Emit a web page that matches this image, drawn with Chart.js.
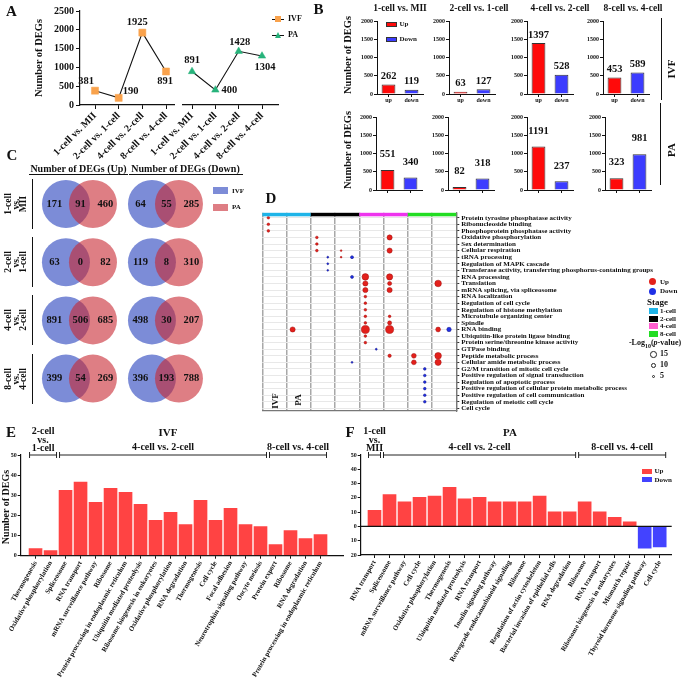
<!DOCTYPE html>
<html><head><meta charset="utf-8">
<script src="https://cdn.jsdelivr.net/npm/chart.js@4.4.1/dist/chart.umd.min.js"></script>
<style>
html,body{margin:0;padding:0;background:#fff;}
#root{position:relative;width:685px;height:679px;overflow:hidden;font-family:"Liberation Serif","Times New Roman",serif;font-weight:bold;color:#111;}
#root canvas{position:absolute;}
.t{position:absolute;white-space:nowrap;line-height:1;}
.b{position:absolute;}
</style></head><body><div id="root"></div>
<script>
// ---------------- DATA ----------------
const stages = ['1-cell vs. MII', '2-cell vs. 1-cell', '4-cell vs. 2-cell', '8-cell vs. 4-cell'];
const totalIVF = [381, 190, 1925, 891];
const totalPA = [891, 400, 1428, 1304];
const bDirections = ['up', 'down'];
const upIVF = [262, 63, 1397, 453];
const downIVF = [119, 127, 528, 589];
const upPA = [551, 82, 1191, 323];
const downPA = [340, 318, 237, 981];
const vennUpIVFonly = [171, 63, 891, 399];
const vennUpShared = [91, 0, 506, 54];
const vennUpPAonly = [460, 82, 685, 269];
const vennDownIVFonly = [64, 119, 498, 396];
const vennDownShared = [55, 8, 30, 193];
const vennDownPAonly = [285, 310, 207, 788];
const goTerms = [
  'Protein tyrosine phosphatase activity', 'Ribonucleoside binding', 'Phosphoprotein phosphatase activity',
  'Oxidative phosphorylation', 'Sex determination', 'Cellular respiration', 'tRNA processing',
  'Regulation of MAPK cascade', 'Transferase activity, transferring phosphorus-containing groups',
  'RNA processing', 'Translation', 'mRNA splicing, via spliceosome', 'RNA localization',
  'Regulation of cell cycle', 'Regulation of histone methylation', 'Microtubule organizing center',
  'Spindle', 'RNA binding', 'Ubiquitin-like protein ligase binding', 'Protein serine/threonine kinase activity',
  'GTPase binding', 'Peptide metabolic process', 'Cellular amide metabolic process',
  'G2/M transition of mitotic cell cycle', 'Positive regulation of signal transduction',
  'Regulation of apoptotic process', 'Positive regulation of cellular protein metabolic process',
  'Positive regulation of cell communication', 'Regulation of meiotic cell cycle', 'Cell cycle'
];
const goColumns = ['IVF', 'PA', 'IVF', 'PA', 'IVF', 'PA', 'IVF', 'PA'];
// columns: 0 IVF 1-cell, 1 PA 1-cell, 2 IVF 2-cell, 3 PA 2-cell, 4 IVF 4-cell, 5 PA 4-cell, 6 IVF 8-cell, 7 PA 8-cell
// [term index, column index, -log10(p-value)]
const goUp = [
  [0,0,4],[1,0,4],[2,0,4],
  [3,2,4],[3,5,11],[4,2,4],
  [5,2,4],[5,3,1.5],[5,5,11],
  [6,3,1.5],
  [9,4,15],[9,5,14],
  [10,4,11],[10,5,8],[10,7,15],
  [11,4,11],[11,5,11],
  [12,4,4],[13,4,4],[14,4,4],
  [15,4,4],[15,5,4],
  [16,4,4],[16,5,8],
  [17,1,11],[17,4,19],[17,5,19],[17,7,10],
  [18,4,4],[19,4,4],
  [21,5,6],[21,6,10],[21,7,15],
  [22,6,10],[22,7,14]
];
const goDown = [
  [6,2,2],[6,3,5],[7,2,2],[8,2,1.5],
  [9,3,5],[17,7,9],[20,4,2],[22,3,2],
  [23,6,4],[24,6,4],[25,6,4],[26,6,4],[27,6,4],[28,6,4]
];
const stageNames = ['1-cell', '2-cell', '4-cell', '8-cell'];
const eLabels = ['Thermogenesis', 'Oxidative phosphorylation', 'Spliceosome', 'RNA transport',
  'mRNA surveillance pathway', 'Ribosome', 'Protein processing in endoplasmic reticulum',
  'Ubiquitin mediated proteolysis', 'Ribosome biogenesis in eukaryotes', 'Oxidative phosphorylation',
  'RNA degradation', 'Thermogenesis', 'Cell cycle', 'Focal adhesion', 'Neurotrophin signaling pathway',
  'Oocyte meiosis', 'Protein export', 'Ribosome', 'RNA degradation', 'Protein processing in endoplasmic reticulum'];
const eValues = [4, 3, 33, 37, 27, 34, 32, 26, 18, 22, 16, 28, 18, 24, 16, 15, 6, 13, 9, 11];
const eGroupSizes = [2, 14, 4];
const eGroupNames = ['2-cell vs. 1-cell', '4-cell vs. 2-cell', '8-cell vs. 4-cell'];
const fLabels = ['RNA transport', 'Spliceosome', 'mRNA surveillance pathway', 'Cell cycle',
  'Oxidative phosphorylation', 'Thermogenesis', 'Ubiquitin mediated proteolysis', 'RNA transport',
  'Insulin signaling pathway', 'Retrograde endocannabinoid signaling', 'Ribosome',
  'Regulation of actin cytoskeleton', 'Bacterial invasion of epithelial cells', 'RNA degradation',
  'Ribosome', 'RNA transport', 'Ribosome biogenesis in eukaryotes', 'Mismatch repair',
  'Thyroid hormone signaling pathway', 'Cell cycle'];
const fValues = [12, 23, 18, 21, 22, 28, 20, 21, 18, 18, 18, 22, 11, 11, 18, 11, 7, 4, -16, -15];
const fGroupSizes = [1, 13, 6];
const fGroupNames = ['1-cell vs. MII', '4-cell vs. 2-cell', '8-cell vs. 4-cell'];

// ---------------- SETUP ----------------
const FONT = '"Liberation Serif","Times New Roman",serif';
Chart.defaults.font.family = FONT;
Chart.defaults.font.weight = 'bold';
Chart.defaults.color = '#111';
Chart.defaults.animation = false;
Chart.defaults.events = [];
Chart.defaults.plugins.legend.display = false;
Chart.defaults.plugins.tooltip.enabled = false;
const root = document.getElementById('root');

function mkCanvas(left, top, w, h) {
  const c = document.createElement('canvas');
  c.width = w; c.height = h;
  c.style.left = left + 'px'; c.style.top = top + 'px';
  c.style.width = w + 'px'; c.style.height = h + 'px';
  root.appendChild(c); return c;
}
function T(html, x, y, size, o = {}) {
  const d = document.createElement('div'); d.className = 't'; d.innerHTML = html;
  d.style.fontSize = size + 'px'; d.style.left = x + 'px'; d.style.top = y + 'px';
  const tx = o.align === 'left' ? '0' : '-50%';
  d.style.transform = `translate(${tx},-50%)` + (o.rot ? ` rotate(${o.rot}deg)` : '');
  if (o.lh) { d.style.lineHeight = o.lh + 'px'; d.style.textAlign = 'center'; }
  root.appendChild(d); return d;
}
function R(x, y, w, h, bg, extra) {
  const d = document.createElement('div'); d.className = 'b';
  Object.assign(d.style, { left: x + 'px', top: y + 'px', width: w + 'px', height: h + 'px', background: bg });
  if (extra) Object.assign(d.style, extra);
  root.appendChild(d); return d;
}
const fit = (w, h) => (s) => {
  if (w != null) s.width = w;
  if (h != null) s.height = h;
  s.paddingLeft = 0; s.paddingRight = 0; s.paddingTop = 0; s.paddingBottom = 0;
};
const plain = v => String(v);
const axisBorder = { color: '#111', width: 1.2 };

// ---------------- PANEL A ----------------
const ptLabelPlugin = {
  id: 'ptLabels',
  afterDatasetsDraw(chart, args, o) {
    const ctx = chart.ctx, meta = chart.getDatasetMeta(0), d = chart.data.datasets[0].data;
    ctx.save(); ctx.font = `bold 10.5px ${FONT}`; ctx.fillStyle = '#111';
    ctx.textAlign = 'center'; ctx.textBaseline = 'middle';
    meta.data.forEach((el, i) => ctx.fillText(String(d[i].y), el.x + o.offsets[i][0], el.y + o.offsets[i][1]));
    ctx.restore();
  }
};
function makeA(left, width, padL, padR, xmin, xmax, values, color, style, radius, offsets, showY) {
  const c = mkCanvas(left, 0, width, 160);
  new Chart(c, {
    type: 'line',
    data: { datasets: [{ data: values.map((v, i) => ({ x: i, y: v })), borderColor: '#111', borderWidth: 1.1,
      pointStyle: style, pointRadius: radius, pointBackgroundColor: color, pointBorderColor: color, pointBorderWidth: 0.5, tension: 0 }] },
    options: {
      responsive: false, devicePixelRatio: 1,
      layout: { padding: { left: padL, right: padR, top: 11, bottom: 0 }, autoPadding: false },
      scales: {
        x: { type: 'linear', min: xmin, max: xmax,
          afterBuildTicks: s => { s.ticks = stages.map((_, i) => ({ value: i })); },
          afterFit: fit(null, 55),
          ticks: { autoSkip: false, minRotation: 45, maxRotation: 45, font: { size: 10 }, padding: 1, callback: v => stages[v] },
          grid: { drawOnChartArea: false, tickLength: 4, tickColor: '#111' }, border: axisBorder },
        y: { display: showY, min: 0, max: 2500,
          ticks: { stepSize: 500, font: { size: 10 }, padding: 2, callback: plain },
          afterFit: fit(showY ? 80 - padL : 0, null),
          grid: { drawOnChartArea: false, tickLength: 4, tickColor: '#111' }, border: axisBorder }
      },
      plugins: { ptLabels: { offsets } }
    },
    plugins: [ptLabelPlugin]
  });
}
makeA(0, 182, 0, 8, -0.634, 3.338, totalIVF, '#F9A24C', 'rect', 5,
  [[-9, -9], [12, -7], [-5, -10], [-1, 10]], true);
makeA(140, 170, 42.7, 32, -0.4, 3.686, totalPA, '#27B37B', 'triangle', 4.3,
  [[0, -11], [14, 0], [1, -9], [3, 11]], false);

// ---------------- PANEL B ----------------
const barLabelPlugin = {
  id: 'barLabels',
  afterDatasetsDraw(chart, args, o) {
    const ctx = chart.ctx, meta = chart.getDatasetMeta(0), d = chart.data.datasets[0].data;
    ctx.save(); ctx.font = `bold 10.5px ${FONT}`; ctx.fillStyle = '#111';
    ctx.textAlign = 'center'; ctx.textBaseline = 'middle';
    meta.data.forEach((el, i) => ctx.fillText(String(d[i]), el.x, el.y - o.dy));
    ctx.restore();
  }
};
const bAxisX = [[377, 449, 527, 603], [376, 448, 527, 605]];
const bTop = [11, 107];
function makeB(row, j) {
  const ax = bAxisX[row][j];
  const c = mkCanvas(ax - 32, bTop[row], 82, 100);
  const vals = row === 0 ? [upIVF[j], downIVF[j]] : [upPA[j], downPA[j]];
  new Chart(c, {
    type: 'bar',
    data: { labels: bDirections, datasets: [{ data: vals, backgroundColor: ['#FF0A0A', '#3C3CFF'],
      borderColor: '#333', borderWidth: 1, barPercentage: 0.6, categoryPercentage: 1 }] },
    options: {
      responsive: false, devicePixelRatio: 1,
      layout: { padding: { left: 0, right: 4, top: 10, bottom: 0 }, autoPadding: false },
      scales: {
        x: { afterFit: fit(null, 17), ticks: { display: row === 0, font: { size: 6 }, padding: 0 },
          grid: { offset: false, drawOnChartArea: false, tickLength: 3, tickColor: '#111' }, border: { color: '#111', width: 1 } },
        y: { min: 0, max: 2000, ticks: { stepSize: 500, font: { size: 6 }, padding: 1, callback: plain }, afterFit: fit(32, null),
          grid: { drawOnChartArea: false, tickLength: 3, tickColor: '#111' }, border: { color: '#111', width: 1 } }
      },
      plugins: { barLabels: { dy: row === 0 ? 8 : 15.5 } }
    },
    plugins: [barLabelPlugin]
  });
}
for (let r = 0; r < 2; r++) for (let j = 0; j < 4; j++) makeB(r, j);

// ---------------- PANEL C (Venn) ----------------
const vennLabelPlugin = {
  id: 'vennLabels',
  afterDatasetsDraw(chart) {
    const ctx = chart.ctx, xs = chart.scales.x, ys = chart.scales.y;
    ctx.save(); ctx.font = `bold 10.5px ${FONT}`; ctx.fillStyle = '#111';
    ctx.textAlign = 'center'; ctx.textBaseline = 'middle';
    const sets = [[vennUpIVFonly, vennUpShared, vennUpPAonly], [vennDownIVFonly, vennDownShared, vennDownPAonly]];
    sets.forEach((trip, c) => {
      for (let i = 0; i < stages.length; i++) {
        const cx = xs.getPixelForValue(c), cy = ys.getPixelForValue(i);
        ctx.fillText(String(trip[0][i]), cx - 25.5, cy);
        ctx.fillText(String(trip[1][i]), cx + 0.5, cy);
        ctx.fillText(String(trip[2][i]), cx + 25.5, cy);
      }
    });
    ctx.restore();
  }
};
{
  const c = mkCanvas(0, 150, 245, 270);
  const blue = [], red = [];
  stages.forEach((_, i) => [0, 1].forEach(col => { blue.push({ x: col - 0.163, y: i }); red.push({ x: col + 0.151, y: i }); }));
  new Chart(c, {
    type: 'bubble',
    data: { datasets: [
      { data: red, backgroundColor: 'rgba(200,40,50,0.6)', borderWidth: 0, radius: 24, order: 1 },
      { data: blue, backgroundColor: 'rgba(69,91,198,0.7)', borderWidth: 0, radius: 24, order: 2 }
    ] },
    options: {
      responsive: false, devicePixelRatio: 1, layout: { padding: 0, autoPadding: false },
      scales: {
        x: { display: false, min: -0.930, max: 1.919 },
        y: { display: false, reverse: true, min: -0.928, max: 3.711 }
      }
    },
    plugins: [vennLabelPlugin]
  });
}

// ---------------- PANEL D (dot plot) ----------------
const rOf = v => 0.6 + 0.18 * v;
const stageColors = ['#1EB4E8', '#000000', '#EE33EE', '#22DD22'];
const stageBarPlugin = {
  id: 'stageBar',
  afterDatasetsDraw(chart) {
    const ctx = chart.ctx, xs = chart.scales.x, top = chart.chartArea.top;
    ctx.save();
    stageColors.forEach((col, s) => {
      const x0 = xs.getPixelForValue(2 * s), x1 = xs.getPixelForValue(2 * s + 2);
      ctx.fillStyle = col; ctx.fillRect(x0, top, x1 - x0, 3.5);
    });
    ctx.restore();
  }
};
{
  const c = mkCanvas(255, 195, 430, 225);
  new Chart(c, {
    type: 'bubble',
    data: { datasets: [
      { data: goUp.map(p => ({ x: p[1] + 0.25, y: p[0], r: rOf(p[2]) })), backgroundColor: '#E3201B', borderColor: '#A01010', borderWidth: 0.5 },
      { data: goDown.map(p => ({ x: p[1] + 0.7, y: p[0], r: rOf(p[2]) })), backgroundColor: '#1F30E6', borderColor: '#101080', borderWidth: 0.5 }
    ] },
    options: {
      responsive: false, devicePixelRatio: 1,
      layout: { padding: { left: 7.3, top: 17.8, right: 0, bottom: 9 }, autoPadding: false },
      scales: {
        x: { type: 'linear', min: 0, max: goColumns.length,
          afterBuildTicks: s => { s.ticks = Array.from({ length: goColumns.length + 1 }, (_, i) => ({ value: i })); },
          afterFit: fit(null, 0), ticks: { display: false },
          grid: { color: '#A8A8A8', lineWidth: 1.5, drawTicks: false }, border: { color: '#777', width: 1.2 } },
        y: { type: 'linear', position: 'right', reverse: true, min: -0.75, max: 29.4,
          afterBuildTicks: s => { s.ticks = goTerms.map((_, i) => ({ value: i })); },
          afterFit: fit(228.7, null),
          ticks: { autoSkip: false, font: { size: 7 }, padding: 2, color: '#111', callback: v => goTerms[v] },
          grid: { color: '#E8E8E8', lineWidth: 1, tickLength: 3, tickColor: '#333' }, border: { color: '#777', width: 1.2 } }
      }
    },
    plugins: [stageBarPlugin]
  });
}

// ---------------- PANELS E / F ----------------
const bracketPlugin = {
  id: 'brackets',
  afterDraw(chart, args, o) {
    const ctx = chart.ctx, xs = chart.scales.x, y = chart.chartArea.top;
    ctx.save(); ctx.strokeStyle = '#222'; ctx.lineWidth = 1; ctx.fillStyle = '#111';
    ctx.font = `bold 10px ${FONT}`; ctx.textAlign = 'center'; ctx.textBaseline = 'middle';
    let s = 0;
    o.sizes.forEach((n, g) => {
      const x0 = xs.getPixelForValue(s - 0.5) + 1.5, x1 = xs.getPixelForValue(s + n - 0.5) - 1.5;
      ctx.beginPath(); ctx.moveTo(x0, y); ctx.lineTo(x1, y);
      [x0, x1].forEach(x => { ctx.moveTo(x, y - 3); ctx.lineTo(x, y + 3); });
      ctx.stroke();
      const stacked = n <= 2;
      const lines = stacked ? o.names[g].split(' ') : [o.names[g]];
      lines.forEach((t, k) => ctx.fillText(t, (x0 + x1) / 2, y - (stacked ? 6.5 : 8) - (lines.length - 1 - k) * 8.5));
      s += n;
    });
    ctx.restore();
  }
};
const zeroLinePlugin = {
  id: 'zeroLine',
  afterDatasetsDraw(chart) {
    const ctx = chart.ctx, ys = chart.scales.y, ca = chart.chartArea, y = ys.getPixelForValue(0);
    ctx.save(); ctx.strokeStyle = '#111'; ctx.lineWidth = 1.2;
    ctx.beginPath(); ctx.moveTo(ca.left, y); ctx.lineTo(ca.right, y); ctx.stroke(); ctx.restore();
  }
};
function makeEF(left, width, padR, yW, xH, xmin, xmax, labels, values, ymin, sizes, names, extra) {
  const c = mkCanvas(left, 425, width, 254);
  new Chart(c, {
    type: 'bar',
    data: { datasets: [{ data: values.map((v, i) => ({ x: i, y: v })),
      backgroundColor: values.map(v => v < 0 ? '#4343FF' : '#FF4343'),
      borderColor: 'rgba(255,255,255,0.65)', borderWidth: 1, barPercentage: 1, categoryPercentage: 1 }] },
    options: {
      responsive: false, devicePixelRatio: 1,
      layout: { padding: { left: 0, right: padR, top: 30, bottom: 0 }, autoPadding: false },
      scales: {
        x: { type: 'linear', offset: false, min: xmin, max: xmax,
          afterBuildTicks: s => { s.ticks = labels.map((_, i) => ({ value: i })); },
          afterFit: fit(null, xH),
          ticks: { autoSkip: false, minRotation: 60, maxRotation: 60, font: { size: 7 }, padding: 1, callback: v => labels[v] },
          grid: { offset: false, drawOnChartArea: false, tickLength: 3, tickColor: '#111' }, border: axisBorder },
        y: { min: ymin, max: 50, ticks: { stepSize: 10, font: { size: 6 }, padding: 1, callback: v => Math.abs(v) },
          afterFit: fit(yW, null),
          grid: { drawOnChartArea: false, tickLength: 3, tickColor: '#111' }, border: axisBorder }
      },
      plugins: { brackets: { sizes, names } }
    },
    plugins: [bracketPlugin].concat(extra)
  });
}
makeEF(0, 345, 2, 20.7, 123.3, -0.99, 20.5, eLabels, eValues, 0, eGroupSizes, eGroupNames, []);
makeEF(345, 340, 13.3, 15.7, 124, -0.92, 19.8, fLabels, fValues, -20, fGroupSizes, fGroupNames, [zeroLinePlugin]);

// ---------------- TEXT / LEGENDS ----------------
// A
T('A', 11.5, 11, 15);
T('Number of DEGs', 39, 58, 10.5, { rot: -90 });
R(272, 18.5, 12, 1, '#111'); R(275, 16, 6, 6, '#F9A24C');
T('IVF', 288, 19, 8, { align: 'left' });
R(272, 34.5, 12, 1, '#111');
R(274.5, 31.5, 0, 0, 'transparent', { borderLeft: '3.5px solid transparent', borderRight: '3.5px solid transparent', borderBottom: '6px solid #27B37B' });
T('PA', 288, 35, 8, { align: 'left' });
// B
T('B', 318.5, 9, 15);
[400, 479, 560, 633].forEach((x, j) => T(stages[j], x, 9, 9.5));
T('Number of DEGs', 348, 55, 10.5, { rot: -90 });
T('Number of DEGs', 348, 150, 10.5, { rot: -90 });
R(660.5, 18, 1.5, 82, '#111'); T('IVF', 671, 69, 11, { rot: -90 });
R(659.5, 103, 1.5, 82, '#111'); T('PA', 671, 150, 11, { rot: -90 });
R(386, 21.5, 10.5, 5.5, '#FF0A0A', { border: '1px solid #333', boxSizing: 'border-box' });
T('Up', 399.5, 24.3, 7, { align: 'left' });
R(386, 36.5, 10.5, 5.5, '#3C3CFF', { border: '1px solid #333', boxSizing: 'border-box' });
T('Down', 399.5, 39.3, 7, { align: 'left' });
// C
T('C', 12, 155, 15);
T('Number of DEGs (Up)', 78.5, 168.5, 10);
T('Number of DEGs (Down)', 185.5, 168.5, 10);
R(29, 174, 99, 1.2, '#111'); R(129, 174, 114, 1.2, '#111');
stages.forEach((s, i) => {
  const cy = 204 + 58.2 * i;
  T(s.split(' ').join('<br>'), 15.8, cy, 9.5, { rot: -90, lh: 7.6 });
  R(31.5, cy - 25, 1.6, 50, '#111');
});
R(213, 187, 15, 7, '#7D8CD7'); T('IVF', 232, 190.5, 7, { align: 'left' });
R(213, 203.5, 15, 7, '#DE7E84'); T('PA', 232, 207, 7, { align: 'left' });
// D
T('D', 271, 198, 15);
T(goColumns[0], 275, 401, 9, { rot: -90 });
T(goColumns[1], 297.5, 400, 9, { rot: -90 });
R(648.5, 278.2, 7, 7, '#E3201B', { borderRadius: '50%' }); T('Up', 660, 281.5, 7, { align: 'left' });
R(648.5, 287.5, 7, 7, '#1F30E6', { borderRadius: '50%' }); T('Down', 660, 291, 7, { align: 'left' });
T('Stage', 657.5, 301.5, 9);
stageNames.forEach((s, k) => {
  R(649, 308 + 7.5 * k, 8.5, 6.3, k === 2 ? '#FF5FD0' : stageColors[k]);
  T(s, 660, 311.2 + 7.5 * k, 7, { align: 'left' });
});
T('-Log<sub style="font-size:6px">10</sub>(<i>p</i>-value)', 655, 344, 8);
[[15, 354.3], [10, 365.3], [5, 376]].forEach(([v, y]) => {
  const r = rOf(v);
  R(653.7 - r, y - r, 2 * r, 2 * r, '#fff', { border: '1px solid #222', borderRadius: '50%', boxSizing: 'border-box' });
  T(String(v), 660, y, 8, { align: 'left' });
});
// E / F
T('E', 11, 432, 15);
T('IVF', 168, 432, 11);
T('Number of DEGs', 6, 507, 10, { rot: -90 });
T('F', 350, 432, 15);
T('PA', 510, 432, 11);
R(642, 468.5, 10, 5, '#FF4343'); T('Up', 654.5, 471, 7, { align: 'left' });
R(642, 477, 10, 5, '#4343FF'); T('Down', 654.5, 479.5, 7, { align: 'left' });
</script></body></html>
